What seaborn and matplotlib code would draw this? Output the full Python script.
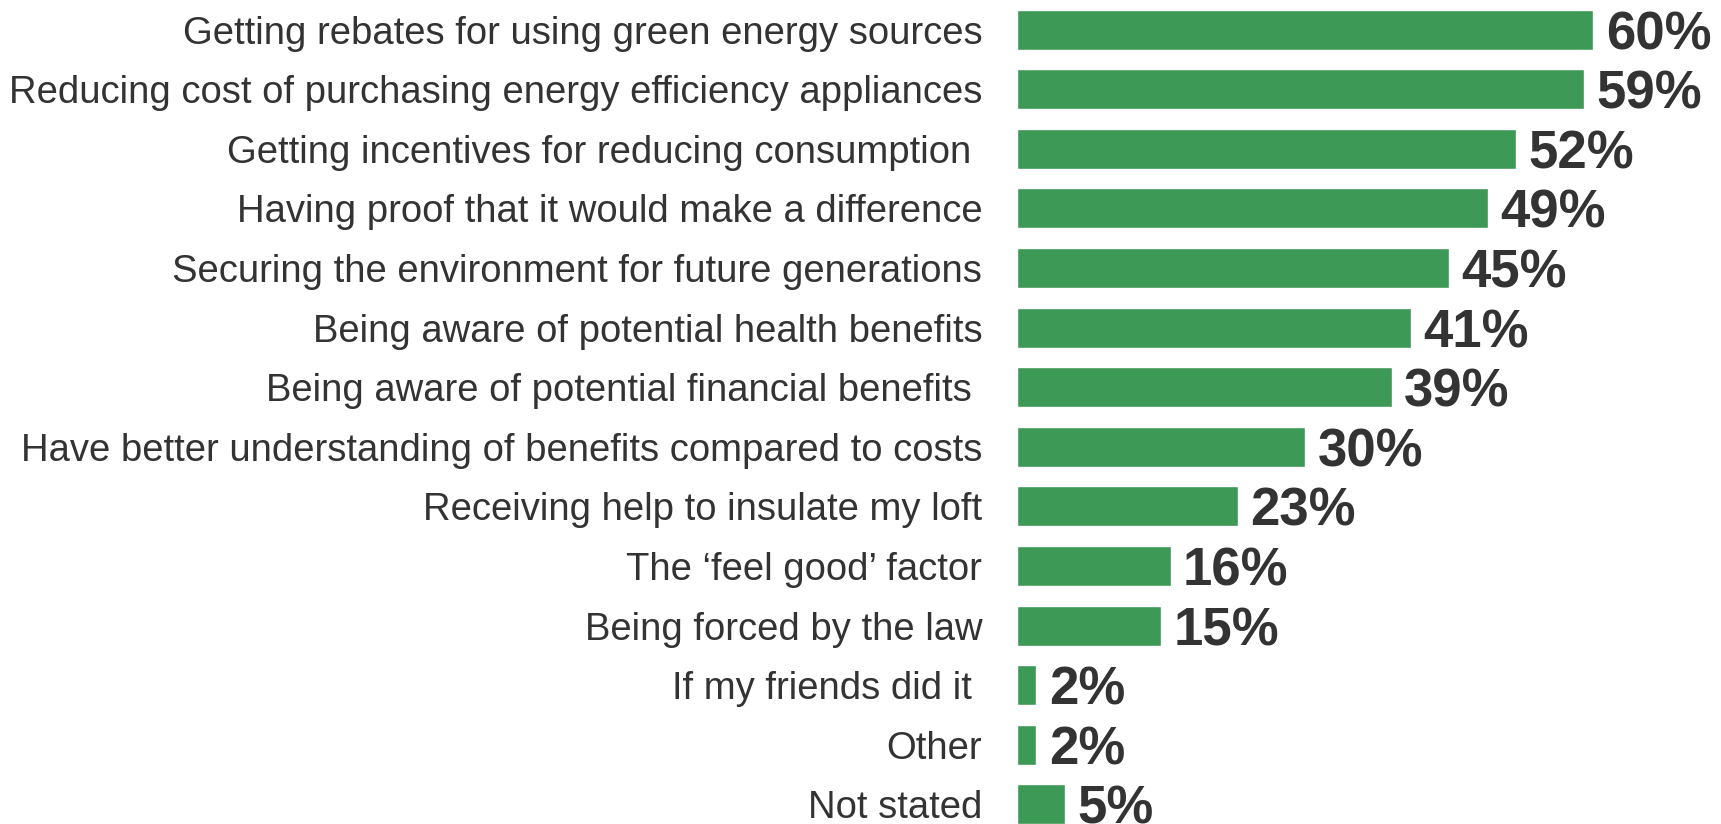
import seaborn as sns
import matplotlib.pyplot as plt

categories = [
    "Getting rebates for using green energy sources",
    "Reducing cost of purchasing energy efficiency appliances",
    "Getting incentives for reducing consumption ",
    "Having proof that it would make a difference",
    "Securing the environment for future generations",
    "Being aware of potential health benefits",
    "Being aware of potential financial benefits ",
    "Have better understanding of benefits compared to costs",
    "Receiving help to insulate my loft",
    "The \u2018feel good\u2019 factor",
    "Being forced by the law",
    "If my friends did it ",
    "Other",
    "Not stated",
]
values = [60, 59, 52, 49, 45, 41, 39, 30, 23, 16, 15, 2, 2, 5]
value_labels = [f"{v}%" for v in values]

sns.set_style("white")
plt.rcParams['font.family'] = ['Liberation Sans', 'DejaVu Sans']

fig = plt.figure(figsize=(17.21, 8.24), dpi=100)
ax = fig.add_axes([0.5909, 0, 0.4091, 1])

sns.barplot(x=values, y=categories, orient='h', color='#3d9956',
            saturation=1, width=0.67, ax=ax)

texts = ax.bar_label(ax.containers[0], labels=value_labels, padding=9,
                     fontsize=38, fontweight='bold', color='#333333')
for t in texts:
    t.set_verticalalignment('center_baseline')

ax.set_xlim(0, 73.3)
ax.set_ylim(13.33, -0.497)
ax.set_xticks([])
ax.set_xlabel('')
ax.set_ylabel('')
ax.tick_params(axis='y', length=0, pad=25, labelsize=27.5, labelcolor='#333333')
sns.despine(ax=ax, left=True, bottom=True)

fig.savefig('out.png', dpi=100)
